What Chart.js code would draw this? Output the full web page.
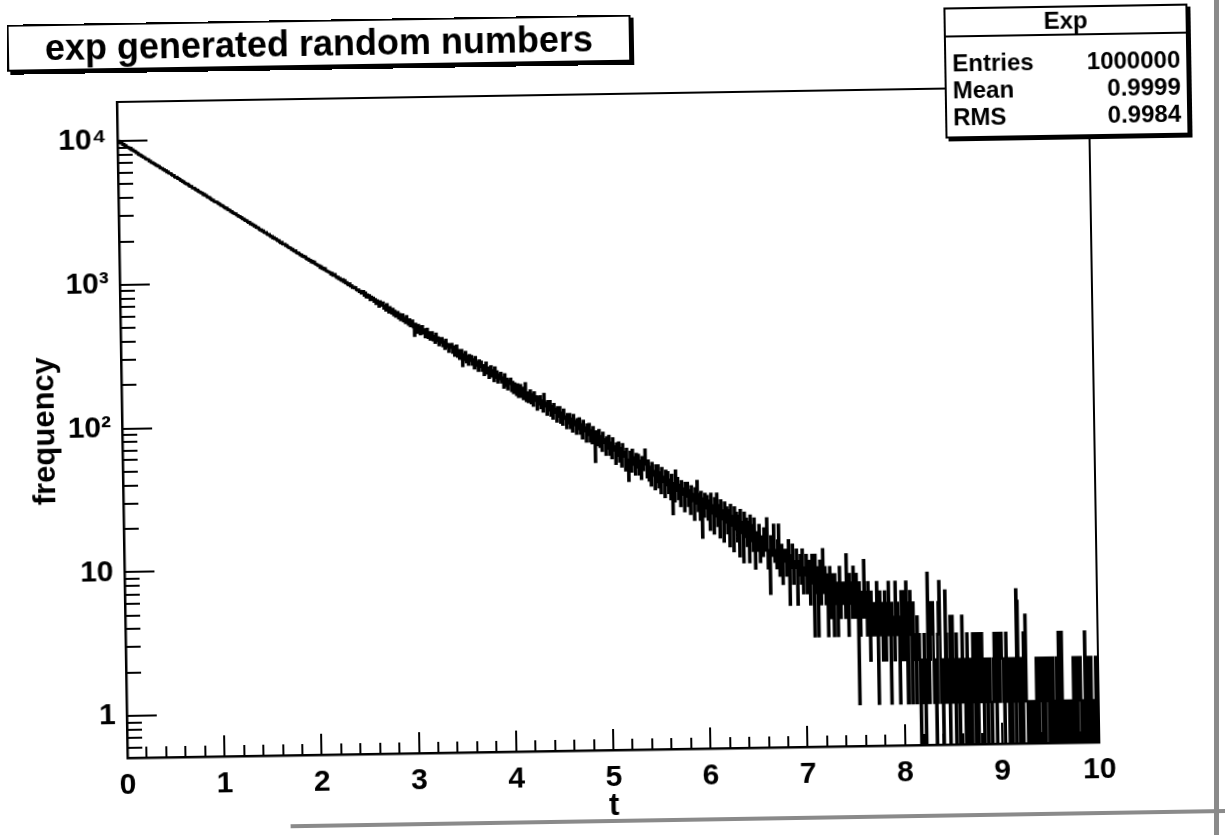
<!DOCTYPE html>
<html>
<head>
<meta charset="utf-8">
<title>exp generated random numbers</title>
<script src="https://cdn.jsdelivr.net/npm/chart.js@4.4.1/dist/chart.umd.min.js"></script>
<style>
  body { margin: 0; background: #fff; }
  #page { position: relative; width: 1225px; height: 835px; overflow: hidden; background: #fff; }
  /* the reference is a slightly skewed scan of a ROOT canvas */
  #wrap { position: absolute; left: 0; top: 0; width: 1225px; height: 835px; transform-origin: 612px 417px; transform: rotate(-0.93deg); }
  #chart { position: absolute; left: 0; top: 0; }
  .pave {
    position: absolute; background: #fff; color: #000;
    font-family: "Liberation Sans", Arial, Helvetica, sans-serif; font-weight: bold;
    border: 2px solid #000; box-shadow: 3px 3px 0 #000; box-sizing: border-box;
  }
  #titleBox { left: 13px; top: 15px; height: 47px; padding: 0 36px; font-size: 36px; line-height: 43px; white-space: nowrap; }
  #statsBox { left: 950px; top: 13px; width: 244px; font-size: 24px; padding-bottom: 6px; }
  #statsBox .head { text-align: center; height: 26px; line-height: 26px; border-bottom: 2px solid #000; margin-bottom: 12px; }
  #statsBox .row { display: flex; justify-content: space-between; padding: 0 6px; height: 27px; line-height: 27px; }
  #edgeRight { position: absolute; left: 1214px; top: 0; width: 5px; height: 835px; background: #8a8a8a; }
  #edgeBottom { position: absolute; left: 284px; top: 819px; width: 960px; height: 4px; background: #8a8a8a; }
</style>
</head>
<body>
<div id="page">
  <div id="wrap">
    <canvas id="chart" width="1225" height="835"></canvas>
    <div id="titleBox" class="pave"></div>
    <div id="statsBox" class="pave"></div>
    <div id="edgeBottom"></div>
  </div>
  <div id="edgeRight"></div>
</div>
<script>
// -------------------------------
// Data (1000 bins of width 0.01 on [0, 10])
// -------------------------------
const chartTitle = "exp generated random numbers";
const xTitle = "t";
const yTitle = "frequency";
const binWidth = 0.01;
const xMin = 0;
const xMax = 10;
const yMin = 0.51;
const yMax = 18700;
const yTickValues = [1, 10, 100, 1000, 10000];
const yTickLabels = ["1", "10", "10\u00B2", "10\u00B3", "10\u2074"];
const statsName = "Exp";
const statsLabels = ["Entries", "Mean", "RMS"];
const statsValues = ["1000000", "0.9999", "0.9984"];

const counts = [
  9930, 9985, 9760, 9660, 9700, 9450, 9510, 9240, 9300, 9080, // 0.0
  9010, 8990, 8840, 8790, 8650, 8700, 8520, 8480, 8390, 8240,
  8230, 8050, 7990, 7950, 7830, 7780, 7650, 7660, 7510, 7440,
  7390, 7380, 7200, 7190, 7040, 7020, 6950, 6880, 6820, 6720,
  6690, 6610, 6600, 6460, 6400, 6390, 6280, 6250, 6140, 6160,
  6010, 6040, 5900, 5870, 5860, 5740, 5670, 5690, 5540, 5500,
  5520, 5410, 5380, 5340, 5230, 5220, 5140, 5120, 5030, 4990,
  4930, 4940, 4860, 4780, 4740, 4740, 4620, 4610, 4600, 4520,
  4470, 4480, 4380, 4330, 4320, 4260, 4250, 4140, 4170, 4080,
  4090, 4000, 3950, 3960, 3900, 3840, 3790, 3800, 3710, 3690,
  3670, 3660, 3600, 3570, 3530, 3470, 3480, 3440, 3380, 3350, // 1.0
  3300, 3330, 3240, 3220, 3210, 3130, 3150, 3080, 3060, 3020,
  3030, 2960, 2950, 2900, 2900, 2860, 2840, 2780, 2790, 2740,
  2700, 2710, 2660, 2620, 2640, 2560, 2570, 2530, 2520, 2470,
  2480, 2420, 2410, 2400, 2350, 2310, 2330, 2280, 2290, 2230,
  2210, 2230, 2170, 2140, 2160, 2110, 2080, 2090, 2030, 2050,
  2000, 2010, 1970, 1940, 1950, 1900, 1870, 1900, 1840, 1830,
  1840, 1790, 1800, 1760, 1740, 1730, 1720, 1680, 1690, 1650,
  1630, 1650, 1600, 1580, 1590, 1560, 1530, 1540, 1500, 1510,
  1480, 1490, 1450, 1430, 1440, 1400, 1410, 1370, 1390, 1350,
  1370, 1330, 1320, 1310, 1290, 1290, 1250, 1270, 1230, 1240, // 2.0
  1210, 1230, 1190, 1180, 1170, 1160, 1150, 1120, 1140, 1100,
  1100, 1120, 1080, 1060, 1070, 1040, 1050, 1020, 1010, 1030,
  990, 1010, 970, 980, 950, 940, 960, 920, 930, 900,
  910, 890, 900, 870, 860, 870, 840, 850, 820, 830,
  845, 790, 825, 770, 800, 765, 790, 735, 770, 740,
  760, 715, 740, 690, 725, 700, 660, 715, 670, 700,
  700, 640, 665, 620, 680, 630, 600, 650, 615, 590,
  630, 575, 610, 560, 590, 600, 545, 580, 530, 565,
  575, 520, 545, 505, 560, 515, 490, 530, 480, 515,
  520, 470, 410, 495, 460, 430, 485, 455, 420, 470, // 3.0
  475, 425, 450, 400, 440, 455, 395, 430, 385, 420,
  430, 380, 405, 365, 420, 375, 395, 350, 390, 365,
  390, 345, 370, 330, 380, 340, 355, 315, 350, 335,
  355, 310, 340, 295, 325, 345, 290, 320, 280, 310,
  320, 250, 300, 275, 310, 265, 290, 255, 295, 270,
  290, 255, 275, 240, 285, 250, 265, 230, 270, 245,
  265, 230, 250, 215, 245, 260, 220, 240, 205, 235,
  245, 210, 230, 195, 240, 205, 225, 190, 215, 200,
  220, 190, 205, 175, 215, 180, 200, 170, 195, 185,
  200, 165, 190, 160, 185, 170, 155, 182, 150, 175, // 4.0
  180, 150, 172, 145, 165, 185, 140, 160, 138, 155,
  165, 135, 155, 130, 160, 140, 150, 122, 148, 132,
  150, 125, 140, 118, 155, 128, 135, 112, 138, 120,
  138, 110, 128, 105, 132, 115, 122, 100, 125, 108,
  125, 98, 115, 95, 120, 104, 108, 90, 112, 97,
  112, 90, 104, 85, 110, 94, 100, 82, 103, 88,
  104, 82, 95, 76, 100, 85, 90, 72, 94, 80,
  95, 72, 86, 70, 90, 78, 52, 84, 68, 80,
  86, 66, 78, 62, 82, 70, 74, 58, 76, 64,
  78, 58, 70, 55, 75, 62, 66, 50, 69, 57, // 5.0
  70, 52, 64, 48, 68, 56, 60, 45, 63, 53,
  38, 50, 60, 44, 62, 49, 55, 42, 58, 47,
  57, 42, 52, 39, 55, 45, 49, 62, 50, 40,
  52, 38, 47, 35, 50, 41, 44, 33, 48, 37,
  48, 34, 43, 31, 46, 37, 40, 29, 44, 35,
  43, 31, 38, 28, 41, 22, 36, 27, 44, 32,
  39, 28, 35, 25, 37, 30, 33, 23, 36, 29,
  36, 25, 32, 22, 34, 27, 30, 20, 33, 26,
  37, 23, 30, 20, 31, 15, 28, 21, 30, 24,
  29, 20, 27, 17, 30, 22, 25, 16, 28, 21, // 6.0
  30, 18, 25, 15, 27, 20, 23, 14, 26, 19,
  24, 16, 23, 13, 25, 18, 21, 12, 24, 17,
  22, 14, 21, 11, 23, 16, 19, 10, 22, 15,
  20, 13, 19, 10, 21, 14, 18, 12, 20, 9,
  16, 12, 14, 18, 10, 15, 13, 11, 17, 12,
  14, 20, 9, 12, 6, 15, 11, 13, 18, 10,
  12, 9, 14, 18, 8, 11, 13, 7, 10, 12,
  10, 8, 12, 14, 5, 11, 9, 13, 7, 10,
  9, 12, 5, 10, 8, 11, 7, 12, 6, 9,
  8, 11, 6, 9, 10, 5, 8, 11, 7, 3, // 7.0
  11, 6, 9, 3, 7, 10, 5, 8, 12, 6,
  9, 5, 8, 3, 6, 9, 4, 7, 8, 3,
  8, 5, 7, 3, 6, 9, 4, 7, 5, 6,
  7, 4, 11, 6, 3, 8, 5, 7, 4, 9,
  6, 4, 8, 5, 1, 7, 3, 5, 6, 4,
  10, 6, 4, 3, 7, 5, 2, 6, 4, 3,
  5, 3, 4, 7, 1, 4, 6, 3, 5, 2,
  4, 6, 2, 5, 3, 7, 4, 1, 5, 3,
  4, 2, 7, 3, 5, 3, 1, 4, 6, 2,
  6, 2, 4, 7, 1, 1, 5, 6, 3, 1, // 8.0
  5, 3, 2, 1, 4, 2, 3, 0, 2, 1,
  2, 3, 0, 1, 2, 8, 1, 2, 5, 3,
  5, 1, 2, 0, 1, 3, 5, 7, 1, 2,
  0, 2, 1, 6, 3, 1, 2, 0, 4, 1,
  4, 2, 1, 0, 3, 1, 2, 0, 1, 2,
  4, 1, 2, 0, 1, 3, 0, 1, 2, 0,
  1, 3, 2, 0, 3, 1, 0, 3, 2, 1,
  3, 1, 0, 2, 1, 2, 0, 1, 2, 1,
  0, 1, 2, 3, 1, 0, 3, 2, 1, 3,
  3, 2, 1, 0, 2, 3, 1, 2, 0, 1, // 9.0
  2, 0, 1, 2, 1, 0, 6, 5, 1, 0,
  2, 1, 0, 3, 1, 4, 1, 0, 1, 1,
  0, 1, 1, 0, 1, 0, 2, 1, 0, 2,
  1, 2, 0, 1, 2, 0, 2, 1, 2, 0,
  2, 1, 0, 2, 1, 0, 1, 2, 0, 3,
  1, 0, 3, 1, 0, 1, 0, 1, 0, 1,
  0, 1, 0, 1, 2, 0, 1, 2, 0, 2,
  1, 2, 0, 1, 0, 1, 3, 0, 1, 2,
  0, 1, 2, 0, 1, 1, 0, 2, 1, 0
];

// -------------------------------
// Text boxes (title pave + stats pave)
// -------------------------------
document.getElementById("titleBox").textContent = chartTitle;
const statsBox = document.getElementById("statsBox");
const head = document.createElement("div");
head.className = "head";
head.textContent = statsName;
statsBox.appendChild(head);
statsLabels.forEach((label, i) => {
  const row = document.createElement("div");
  row.className = "row";
  const a = document.createElement("span");
  a.textContent = label;
  const b = document.createElement("span");
  b.textContent = statsValues[i];
  row.appendChild(a);
  row.appendChild(b);
  statsBox.appendChild(row);
});

// -------------------------------
// Histogram points: bin lower edges, stepped; empty bins sit on the axis floor
// -------------------------------
const points = counts.map((c, i) => ({ x: xMin + i * binWidth, y: c > 0 ? c : yMin }));
points.push({ x: xMax, y: points[points.length - 1].y });

// ROOT style ticks drawn inside the frame, plus the frame itself
const frameTicks = {
  id: "frameTicks",
  afterDatasetsDraw(chart) {
    const { ctx, chartArea: a, scales: { x, y } } = chart;
    ctx.save();
    ctx.strokeStyle = "#000";
    ctx.lineWidth = 2;
    // x ticks, every 0.2, longer on integers
    for (let i = 0; i <= 50; i++) {
      const px = Math.round(x.getPixelForValue(i * 0.2));
      const len = i % 5 === 0 ? 21 : 11;
      ctx.beginPath();
      ctx.moveTo(px, a.bottom);
      ctx.lineTo(px, a.bottom - len);
      ctx.stroke();
    }
    // y ticks, log decades with 2..9 subdivisions
    for (let d = -1; d <= 4; d++) {
      for (let k = 1; k <= 9; k++) {
        const v = k * Math.pow(10, d);
        if (v < yMin || v > yMax) continue;
        const py = Math.round(y.getPixelForValue(v));
        const len = k === 1 ? 30 : 15;
        ctx.beginPath();
        ctx.moveTo(a.left, py);
        ctx.lineTo(a.left + len, py);
        ctx.stroke();
      }
    }
    // frame top / right
    ctx.beginPath();
    ctx.moveTo(a.left, a.top);
    ctx.lineTo(a.right, a.top);
    ctx.lineTo(a.right, a.bottom);
    ctx.stroke();
    ctx.restore();
  },
};

const labelFont = { family: "'Liberation Sans', Arial, Helvetica, sans-serif", size: 30, weight: "bold" };
const titleFont = { family: "'Liberation Sans', Arial, Helvetica, sans-serif", size: 31, weight: "bold" };

new Chart(document.getElementById("chart"), {
  type: "line",
  data: {
    datasets: [
      {
        label: statsName,
        data: points,
        stepped: true,
        borderColor: "#000",
        borderWidth: 2.6,
        pointRadius: 0,
        fill: false,
      },
    ],
  },
  options: {
    responsive: false,
    animation: false,
    devicePixelRatio: 1,
    layout: { padding: { top: 94, right: 131, left: 0, bottom: 0 } },
    plugins: {
      legend: { display: false },
      tooltip: { enabled: false },
    },
    scales: {
      x: {
        type: "linear",
        min: xMin,
        max: xMax,
        afterFit: (scale) => { scale.height = 85; },
        grid: { display: false, drawTicks: false },
        border: { display: true, color: "#000", width: 2.5 },
        ticks: { stepSize: 1, color: "#000", font: labelFont, padding: 10, maxRotation: 0 },
        title: { display: true, text: xTitle, color: "#000", font: titleFont, padding: { top: 0, bottom: 10 } },
      },
      y: {
        type: "logarithmic",
        min: yMin,
        max: yMax,
        bounds: "data",
        afterFit: (scale) => { scale.width = 122; },
        afterBuildTicks: (scale) => {
          scale.ticks = yTickValues.map((v) => ({ value: v }));
        },
        grid: { display: false, drawTicks: false },
        border: { display: true, color: "#000", width: 2.5 },
        ticks: {
          color: "#000",
          font: labelFont,
          padding: 11,
          autoSkip: false,
          callback: (v) => {
            const i = yTickValues.indexOf(v);
            return i >= 0 ? yTickLabels[i] : "";
          },
        },
        title: { display: true, text: yTitle, color: "#000", font: titleFont, padding: { top: 27, bottom: 0 } },
      },
    },
  },
  plugins: [frameTicks],
});
</script>
</body>
</html>
